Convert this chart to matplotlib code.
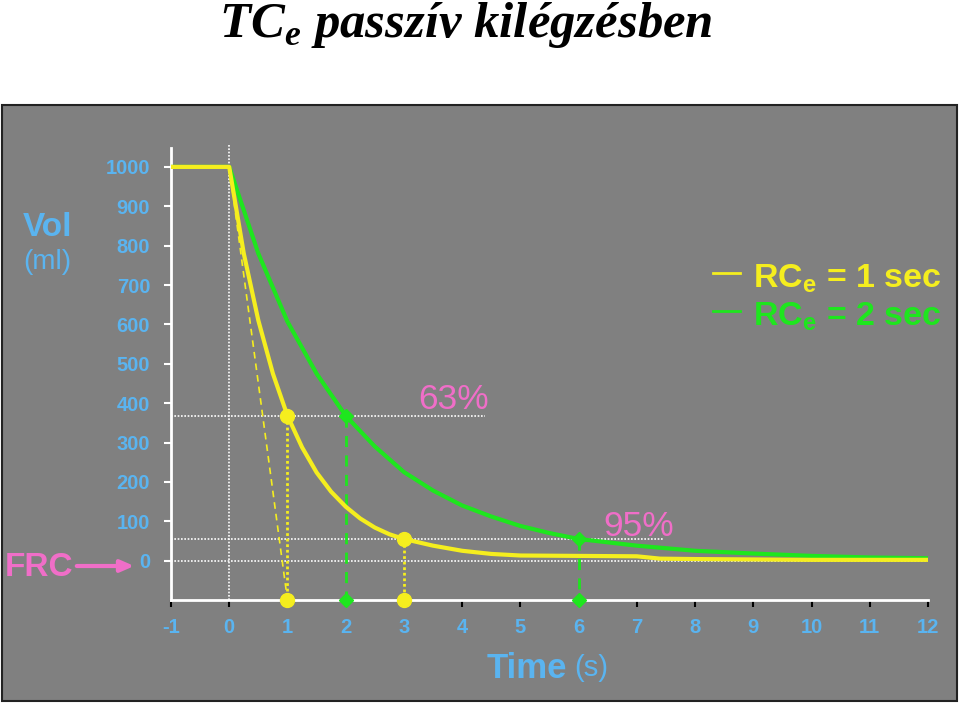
import matplotlib
matplotlib.use("Agg")
import matplotlib.pyplot as plt
from matplotlib.patches import Rectangle
from matplotlib.lines import Line2D

# values
t_yellow = [-1, 0, 0.25, 0.5, 0.75, 1, 1.25, 1.5, 1.75, 2, 2.25, 2.5, 2.75, 3, 3.5, 4, 4.5, 5, 6, 7, 7.4, 8, 9, 10, 11, 12]
v_yellow = [1000, 1000, 780, 610, 475, 368, 288, 224, 175, 137, 107, 84, 67, 55, 38, 25, 17, 13, 12, 11, 5, 4, 3, 2, 2, 2]
t_green = [-1, 0, 0.5, 1, 1.5, 2, 2.5, 3, 3.5, 4, 4.5, 5, 5.5, 6, 7, 8, 9, 10, 11, 12]
v_green = [1000, 1000, 780, 607, 475, 368, 290, 225, 178, 140, 112, 88, 70, 55, 38, 25, 18, 12, 8, 6]
tangent_t = [0, 1.0]
tangent_v = [1000, -100]
level63 = 368
level95 = 55
yellow_marks_t = [1, 3]
green_marks_t = [2, 6]
xticks = list(range(-1, 13))
yticks = list(range(0, 1001, 100))

YELLOW = "#f5ee1e"
GREEN = "#1ee61e"
PINK = "#f06ec8"
BLUE = "#5ab4f0"
GRAY = "#808080"

plt.rcParams["mathtext.fontset"] = "custom"
plt.rcParams["mathtext.rm"] = "Liberation Serif:italic:bold"
plt.rcParams["mathtext.sf"] = "Liberation Sans:bold"
plt.rcParams["axes.unicode_minus"] = False

W, H = 959, 703
fig = plt.figure(figsize=(W / 100, H / 100), dpi=100)
fig.patch.set_facecolor("white")


def px(x, y):
    return x / W, 1 - y / H


# gray panel
panel = Rectangle(px(2, 701), 955 / W, 596 / H, transform=fig.transFigure,
                  facecolor=GRAY, edgecolor="#222222", lw=1.5)
panel.set_zorder(-5)
fig.add_artist(panel)

ax = fig.add_axes([171 / W, 1 - 600 / H, (928 - 171) / W, (600 - 148) / H])
ax.set_zorder(2)
ax.patch.set_visible(False)
ax.set_xlim(-1, 12)
ax.set_ylim(-100, 1048)

for s in ["top", "right"]:
    ax.spines[s].set_visible(False)
for s in ["left", "bottom"]:
    ax.spines[s].set_color("white")
    ax.spines[s].set_linewidth(2)

ax.set_yticks(yticks)
ax.set_xticks(xticks)
ax.tick_params(axis="y", colors="white", length=5, width=1.5, pad=10,
               labelcolor=BLUE, labelsize=14.5)
ax.tick_params(axis="x", colors="black", length=5, width=1.5, pad=8,
               labelcolor=BLUE, labelsize=14.5)
for lab in ax.get_xticklabels() + ax.get_yticklabels():
    lab.set_fontfamily("Liberation Sans")
    lab.set_fontweight("bold")

dot = (0, (1, 1))
# reference lines
ax.plot([0, 0], [-100, 1055], color="white", lw=1.2, ls=dot, clip_on=False, zorder=1)
ax.plot([-1, 12], [0, 0], color="white", lw=1.2, ls=dot, zorder=1)
ax.plot([-1, 4.4], [level63, level63], color="white", lw=1.2, ls=dot, zorder=1)
ax.plot([-1, 7.45], [level95, level95], color="white", lw=1.2, ls=dot, zorder=1)
ax.plot(tangent_t, tangent_v, color=YELLOW, lw=1.2, ls=(0, (4, 3)), zorder=2)

# curves
ax.plot(t_green, v_green, color=GREEN, lw=3, zorder=3)
ax.plot(t_yellow, v_yellow, color=YELLOW, lw=3, zorder=4)

# drop lines + markers
for t, lev in zip(yellow_marks_t, [level63, level95]):
    ax.plot([t, t], [lev, -100], color=YELLOW, lw=2, ls=dot, zorder=2)
    ax.plot([t, t], [lev, -100], ls="none", marker="o", ms=10, color=YELLOW,
            clip_on=False, zorder=6)
for t, lev in zip(green_marks_t, [level63, level95]):
    ax.plot([t, t], [lev, -100], color=GREEN, lw=2, ls=(0, (4, 3)), zorder=2)
    ax.plot([t, t], [lev, -100], ls="none", marker="D", ms=7, color=GREEN,
            clip_on=False, zorder=6)

ax.text(3.85, 410, "63%", color=PINK, fontsize=25.5, family="Liberation Sans",
        ha="center", va="center")
ax.text(7.03, 86, "95%", color=PINK, fontsize=25.5, family="Liberation Sans",
        ha="center", va="center")

# title
fig.text(*px(466, 37), r"TC$_\mathrm{e}$ passzív kilégzésben", fontsize=36.5,
         family="Liberation Serif", style="italic", weight="bold",
         ha="center", va="baseline")

# axis labels
fig.text(*px(48, 228), "Vol", color=BLUE, fontsize=24, weight="bold",
         family="Liberation Sans", ha="center", va="center")
fig.text(*px(47, 262), "(ml)", color=BLUE, fontsize=20,
         family="Liberation Sans", ha="center", va="center")
fig.text(*px(487, 668), "Time", color=BLUE, fontsize=25, weight="bold",
         family="Liberation Sans", ha="left", va="center")
fig.text(*px(574, 668), "(s)", color=BLUE, fontsize=21,
         family="Liberation Sans", ha="left", va="center")

# FRC arrow
fig.text(*px(5, 568), "FRC", color=PINK, fontsize=24, weight="bold",
         family="Liberation Sans", ha="left", va="center")
fig.add_artist(plt.Annotation("", xy=px(137, 566), xytext=px(74, 566),
                              xycoords="figure fraction", textcoords="figure fraction",
                              arrowprops=dict(arrowstyle="-|>,head_length=0.8,head_width=0.35",
                                              color=PINK, lw=3)))

# legend
for y, col, txt in [(273, YELLOW, r"RC$_\mathsf{e}$ = 1 sec"),
                    (311, GREEN, r"RC$_\mathsf{e}$ = 2 sec")]:
    fig.add_artist(Line2D([713 / W, 740 / W], [1 - y / H, 1 - y / H], color=col, lw=2))
    fig.text(*px(753, y + 14), txt, color=col, fontsize=24.5, weight="bold",
             family="Liberation Sans", ha="left", va="baseline")

fig.savefig("out.png", dpi=100, facecolor=fig.get_facecolor())
